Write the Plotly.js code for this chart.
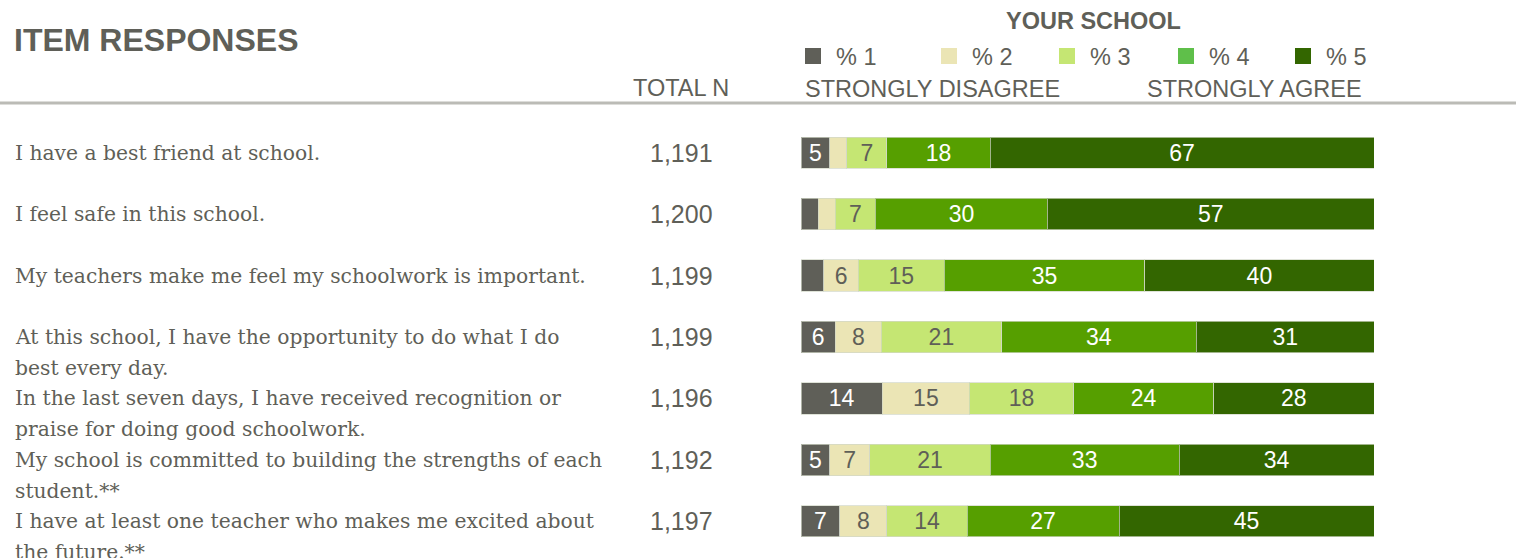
<!DOCTYPE html>
<html>
<head>
<meta charset="utf-8">
<script src="https://cdn.plot.ly/plotly-3.0.1.min.js"></script>
<style>html,body{margin:0;padding:0;background:#fff;}#chart{width:1520px;height:558px;}</style>
</head>
<body>
<div id="chart"></div>
<script>
// ---- data ----
const questions = [
  "I have a best friend at school.",
  "I feel safe in this school.",
  "My teachers make me feel my schoolwork is important.",
  "At this school, I have the opportunity to do what I do<br>best every day.",
  "In the last seven days, I have received recognition or<br>praise for doing good schoolwork.",
  "My school is committed to building the strengths of each<br>student.**",
  "I have at least one teacher who makes me excited about<br>the future.**"
];
const totalN = ["1,191", "1,200", "1,199", "1,199", "1,196", "1,192", "1,197"];
const seriesNames = ["% 1", "% 2", "% 3", "% 4", "% 5"];
// estimated unrounded shares (labels shown rounded)
const pct1 = [5, 3, 4, 6, 14.2, 5, 6.8];
const pct2 = [3, 3, 6, 8, 15.2, 7, 8.2];
const pct3 = [7, 7, 15, 21, 18.2, 21, 14];
const pct4 = [18, 30, 35, 34, 24.4, 33, 26.5];
const pct5 = [67, 57, 40, 31, 28, 34, 44.5];
const scaleLabels = ["STRONGLY DISAGREE", "STRONGLY AGREE"];

// ---- styling ----
const W = 1520, H = 558, MT = 122, MB = 6;
const px = x => x / W;
const py = y => (H - MB - y) / (H - MT - MB);
const barColors = ["#5f5f58", "#ebe5b5", "#c5e673", "#569f00", "#336600"];
const legendColors = ["#5f5f58", "#ebe5b5", "#c5e673", "#5fbf4a", "#336600"];
const textColors = ["#ffffff", "#5f5f58", "#5f5f58", "#ffffff", "#ffffff"];
const GRAY = "#5f5f58";
const SANS = "Liberation Sans, Arial, sans-serif";
const SERIF = "DejaVu Serif, Georgia, serif";

const allSeries = [pct1, pct2, pct3, pct4, pct5];
const traces = allSeries.map((vals, i) => ({
  type: "bar",
  orientation: "h",
  name: seriesNames[i],
  x: vals,
  y: questions,
  text: vals.map(v => Math.round(v) >= 5 ? String(Math.round(v)) : ""),
  textposition: "inside",
  insidetextanchor: "middle",
  textangle: 0,
  textfont: {family: SANS, size: 23, color: textColors[i]},
  constraintext: "none",
  marker: {color: barColors[i], line: {color: "rgba(210,215,200,0.7)", width: 1}},
  hoverinfo: "name+x",
  showlegend: false
}));

const annotations = [];
// header texts
annotations.push({xref: "paper", yref: "paper", x: px(1093), y: py(21), xanchor: "center", yanchor: "middle",
  text: "<b>YOUR SCHOOL</b>", showarrow: false, font: {family: SANS, size: 23.5, color: GRAY}});
annotations.push({xref: "paper", yref: "paper", x: px(681), y: py(88), xanchor: "center", yanchor: "middle",
  text: "TOTAL N", showarrow: false, font: {family: SANS, size: 23.5, color: GRAY}});
annotations.push({xref: "paper", yref: "paper", x: px(803), y: py(89), xanchor: "left", yanchor: "middle",
  text: scaleLabels[0], showarrow: false, font: {family: SANS, size: 23.5, color: GRAY}});
annotations.push({xref: "paper", yref: "paper", x: px(1364), y: py(89), xanchor: "right", yanchor: "middle",
  text: scaleLabels[1], showarrow: false, font: {family: SANS, size: 23.5, color: GRAY}});

// custom legend
const legendX = [805, 941, 1059, 1178, 1295];
const shapes = [];
seriesNames.forEach((n, i) => {
  shapes.push({type: "rect", xref: "paper", yref: "paper",
    x0: px(legendX[i]), x1: px(legendX[i] + 16), y0: py(64), y1: py(48),
    fillcolor: legendColors[i], line: {width: 0}});
  annotations.push({xref: "paper", yref: "paper", x: px(legendX[i] + 29), y: py(57), xanchor: "left", yanchor: "middle",
    text: n, showarrow: false, font: {family: SANS, size: 23.5, color: GRAY}});
});

// separator line
shapes.push({type: "line", xref: "paper", yref: "paper", x0: 0, x1: px(1516), y0: py(103), y1: py(103),
  line: {color: "#bbbbb6", width: 3}});

// row labels and totals
questions.forEach((q, i) => {
  q.split("<br>").forEach((line, k) => {
    annotations.push({xref: "paper", yref: "y", x: px(13), y: q, xanchor: "left", yanchor: "middle",
      yshift: -31 * k, text: line, showarrow: false, align: "left",
      font: {family: SERIF, size: 20.3, color: GRAY}});
  });
  annotations.push({xref: "paper", yref: "y", x: px(681), y: q, xanchor: "center", yanchor: "middle",
    text: totalN[i], showarrow: false, font: {family: SANS, size: 25, color: GRAY}});
});

const layout = {
  width: W, height: H,
  margin: {l: 0, r: 0, t: MT, b: MB, pad: 0},
  paper_bgcolor: "#ffffff", plot_bgcolor: "#ffffff",
  title: {text: "<b>ITEM RESPONSES</b>", x: px(14), xanchor: "left", xref: "paper",
    y: 1 - 40 / H, yanchor: "middle", font: {family: SANS, size: 32, color: GRAY}},
  barmode: "stack",
  bargap: 0.49,
  showlegend: false,
  xaxis: {domain: [px(801), px(1374)], range: [0, 100], visible: false, fixedrange: true},
  yaxis: {type: "category", autorange: false, range: [6.5, -0.5], visible: false, fixedrange: true},
  annotations: annotations,
  shapes: shapes
};

Plotly.newPlot("chart", traces, layout, {displayModeBar: false, staticPlot: true});
</script>
</body>
</html>
